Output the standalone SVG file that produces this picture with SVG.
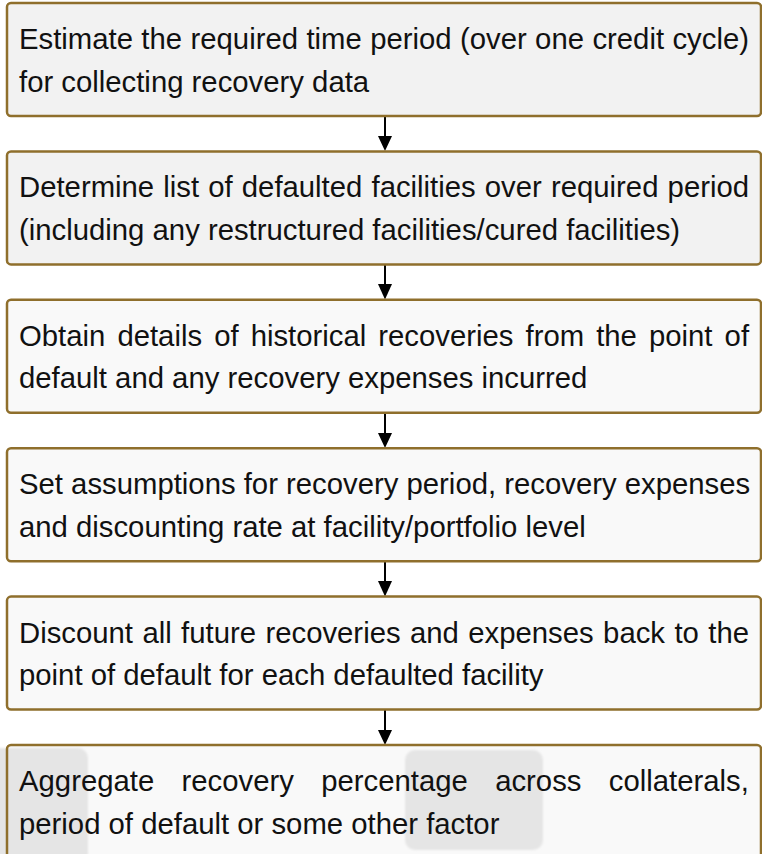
<svg xmlns="http://www.w3.org/2000/svg" width="762" height="854" viewBox="0 0 762 854">
  <style>
    .box { stroke: #8f6f2c; stroke-width: 2.5; }
    .dark { fill: #f2f2f2; }
    .light { fill: #f9f9f9; }
    .edge { fill: none; stroke: #8f6f2c; stroke-width: 2.5; }
    .lbl { font-family: "Liberation Sans", Arial, sans-serif; font-size: 29.3px; fill: #111111; }
    .link { stroke: #000000; stroke-width: 2; fill: none; }
    .tip { fill: #000000; }
    .smudge { fill: #e5e5e5; }
  </style>
  <defs>
    <filter id="soft" x="-10%" y="-10%" width="120%" height="120%">
      <feGaussianBlur stdDeviation="1.2"/>
    </filter>
  </defs>
  <rect width="762" height="854" fill="#ffffff"/>

  <g id="connectors">
    <line class="link" x1="385" y1="117" x2="385" y2="137"/>
    <line class="link" x1="385" y1="265" x2="385" y2="285"/>
    <line class="link" x1="385" y1="413" x2="385" y2="434"/>
    <line class="link" x1="385" y1="562" x2="385" y2="582"/>
    <line class="link" x1="385" y1="710" x2="385" y2="731"/>
    <path class="tip" d="M378,136 L392,136 L385,151 Z"/>
    <path class="tip" d="M378,284 L392,284 L385,299.5 Z"/>
    <path class="tip" d="M378,433 L392,433 L385,448 Z"/>
    <path class="tip" d="M378,581 L392,581 L385,596.5 Z"/>
    <path class="tip" d="M378,730 L392,730 L385,745 Z"/>
  </g>

  <g id="step1">
    <rect class="box dark" x="7" y="3" width="754" height="113" rx="4"/>
    <text class="lbl" x="19" y="49" word-spacing="0.26">Estimate the required time period (over one credit cycle)</text>
    <text class="lbl" x="19" y="91.5">for collecting recovery data</text>
  </g>

  <g id="step2">
    <rect class="box dark" x="7" y="151.4" width="754" height="113" rx="4"/>
    <text class="lbl" x="19" y="197.4" word-spacing="1">Determine list of defaulted facilities over required period</text>
    <text class="lbl" x="19" y="239.9">(including any restructured facilities/cured facilities)</text>
  </g>

  <g id="step3">
    <rect class="box light" x="7" y="299.8" width="754" height="113" rx="4"/>
    <text class="lbl" x="19" y="345.8" word-spacing="3.93">Obtain details of historical recoveries from the point of</text>
    <text class="lbl" x="19" y="388.3">default and any recovery expenses incurred</text>
  </g>

  <g id="step4">
    <rect class="box light" x="7" y="448.2" width="754" height="113" rx="4"/>
    <text class="lbl" x="19" y="494.2">Set assumptions for recovery period, recovery expenses</text>
    <text class="lbl" x="19" y="536.7">and discounting rate at facility/portfolio level</text>
  </g>

  <g id="step5">
    <rect class="box light" x="7" y="596.6" width="754" height="113" rx="4"/>
    <text class="lbl" x="19" y="642.6" word-spacing="1.27">Discount all future recoveries and expenses back to the</text>
    <text class="lbl" x="19" y="685.1">point of default for each defaulted facility</text>
  </g>

  <g id="step6">
    <rect class="light" x="7" y="745" width="754" height="113" rx="4"/>
    <rect class="smudge" x="-12" y="748" width="100" height="115" rx="10" filter="url(#soft)"/>
    <rect class="smudge" x="405" y="750" width="138" height="100" rx="10" filter="url(#soft)"/>
    <rect class="edge" x="7" y="745" width="754" height="113" rx="4"/>
    <text class="lbl" x="19" y="791" word-spacing="19.2">Aggregate recovery percentage across collaterals,</text>
    <text class="lbl" x="19" y="833.5">period of default or some other factor</text>
  </g>
</svg>
